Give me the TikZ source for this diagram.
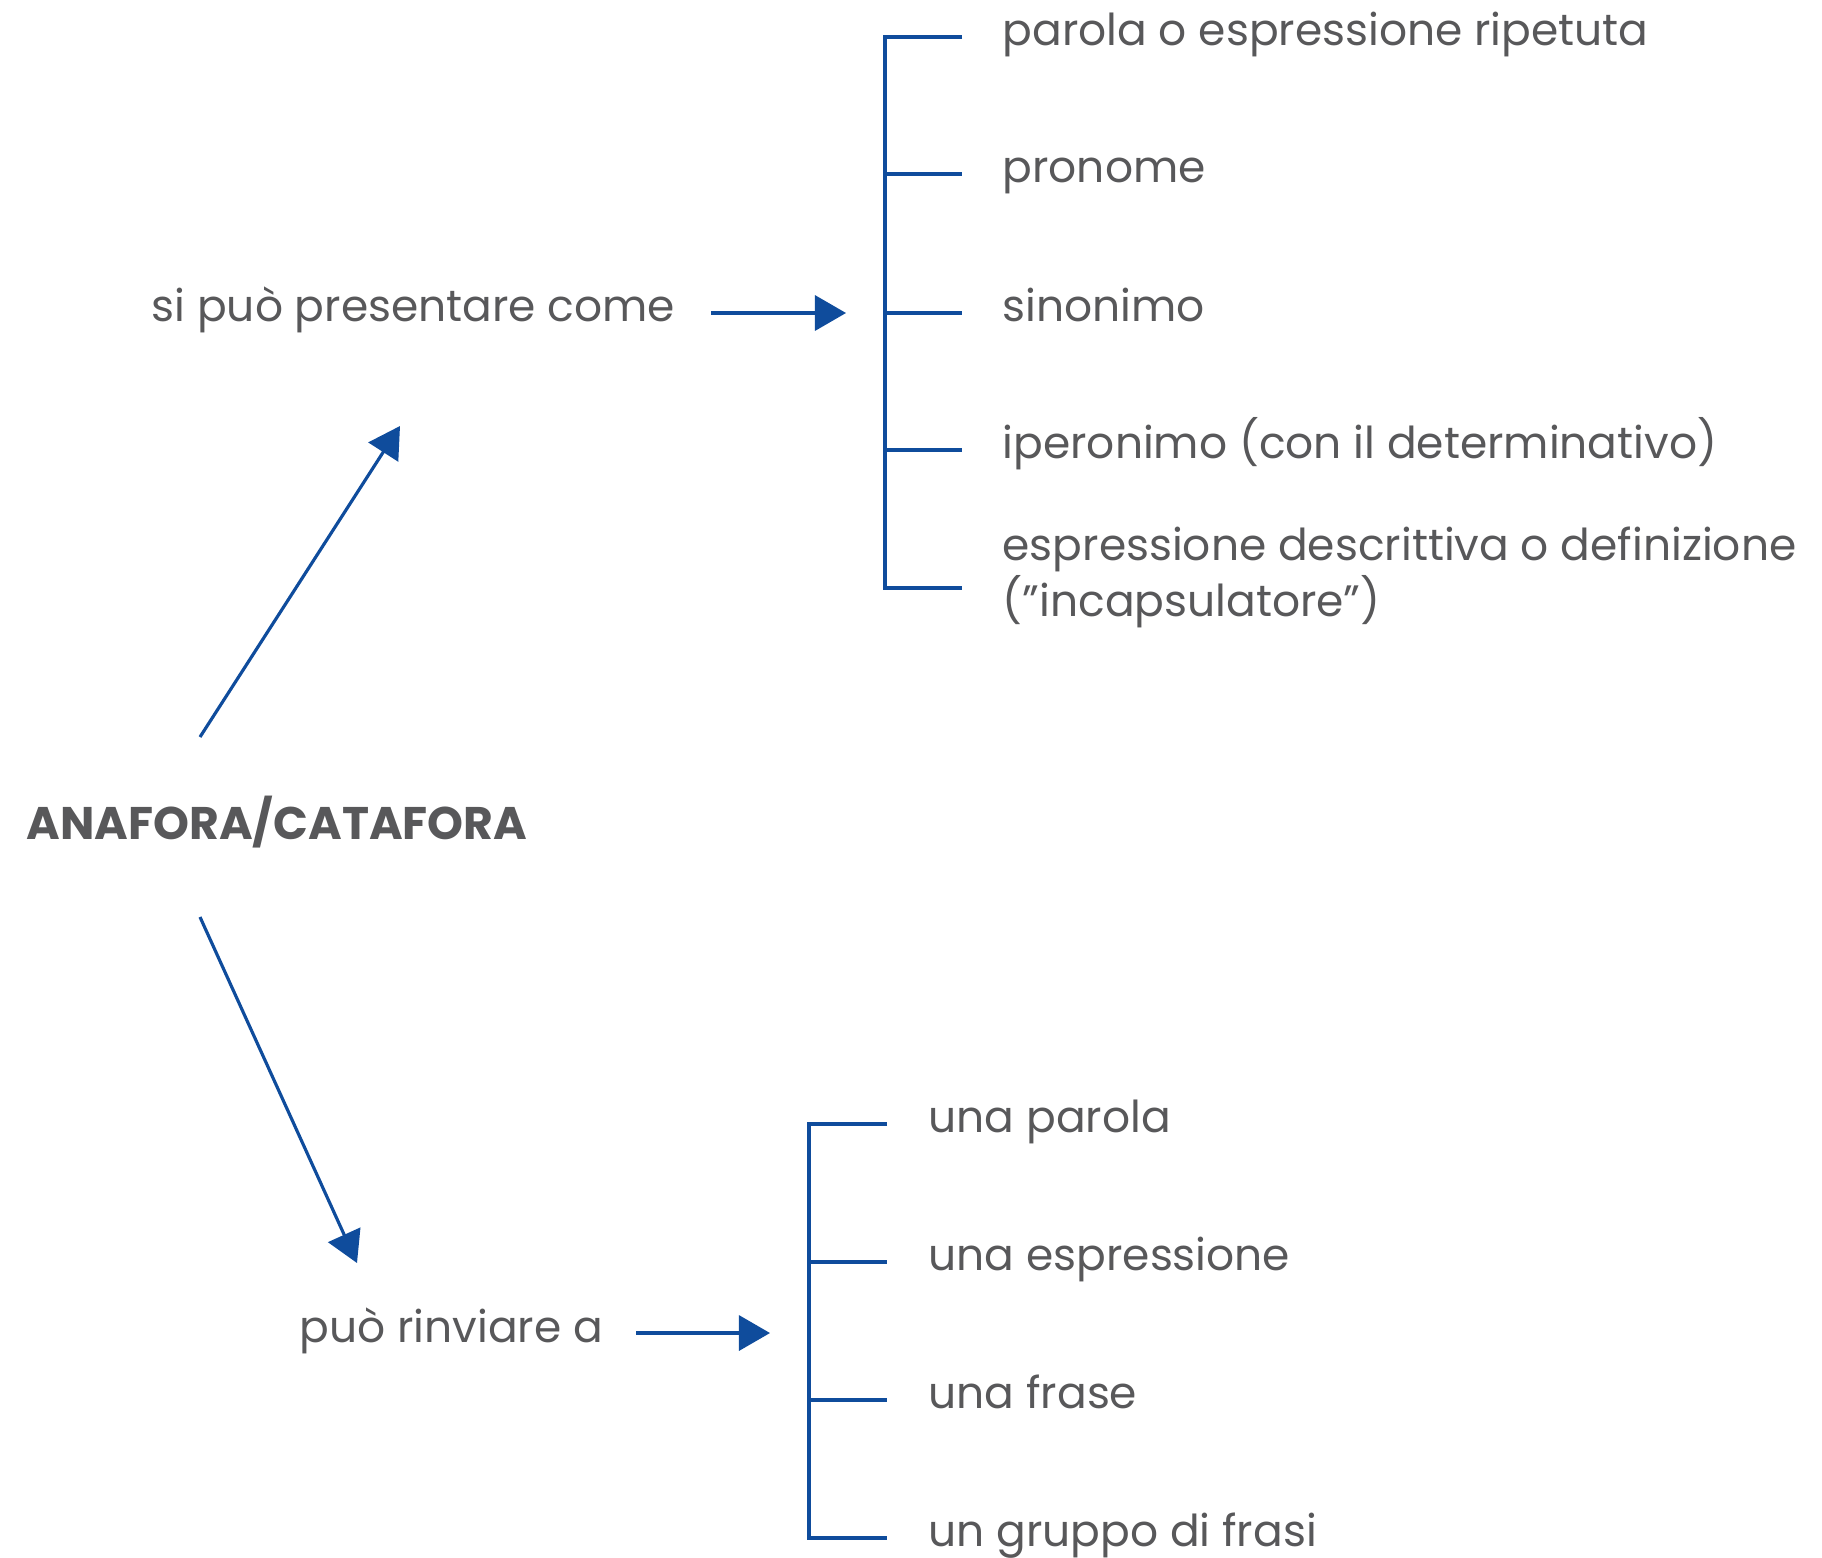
\documentclass[tikz,border=0pt]{standalone}
\usepackage{fontspec}
\setmainfont{Poppins}
\usetikzlibrary{arrows.meta,positioning}
\definecolor{MapBlue}{HTML}{0F4C9C}
\definecolor{MapInk}{HTML}{58585A}

\begin{document}
\begin{tikzpicture}[
    x=0.01cm, y=-0.01cm,
    item/.style={
      anchor=base west, inner sep=0pt, align=left,
      font=\fontsize{12.5}{13.8}\selectfont, text=MapInk
    },
    head/.style={
      anchor=base west, inner sep=0pt,
      font=\fontsize{13}{16}\selectfont\bfseries, text=MapInk
    },
    arr/.style={-{Triangle[length=3.1mm, width=3.5mm]}, line width=0.9pt, color=MapBlue},
    brk/.style={line width=0.95pt, color=MapBlue, line join=miter}
  ]
  \useasboundingbox (0,0) rectangle (1822,1557);

  % Main term
  \node[head] (anafora) at (26, 839) {ANAFORA/CATAFORA};

  % Upper branch
  \node[item] (presenta) at (151, 321) {si può presentare come};
  \node[item] (parola) at (1002, 45) {parola o espressione ripetuta};
  \node[item] (pronome) at (1002, 182) {pronome};
  \node[item] (sinonimo) at (1002, 321) {sinonimo};
  \node[item] (iperonimo) at (1002, 458) {iperonimo (con il determinativo)};
  \node[item] (descr) at (1002, 616) {espressione descrittiva o definizione\\(”incapsulatore”)};

  % Lower branch
  \node[item] (rinvia) at (299, 1342) {può rinviare a};
  \node[item] (unaparola) at (928, 1132) {una parola};
  \node[item] (unaespr) at (928, 1270) {una espressione};
  \node[item] (unafrase) at (928, 1408) {una frase};
  \node[item] (gruppo) at (928, 1546) {un gruppo di frasi};

  % Arrow ends
  \coordinate (upfrom) at (200, 737);
  \coordinate (upto) at (400, 426);
  \coordinate (downfrom) at (200, 917);
  \coordinate (downto) at (357, 1263);
  \coordinate (pfrom) at (711, 313);
  \coordinate (pto) at (846, 313);
  \coordinate (rfrom) at (636, 1333);
  \coordinate (rto) at (770, 1333);

  % Bracket ends
  \coordinate (ta1) at (885, 37);   \coordinate (te1) at (962, 37);
  \coordinate (ta2) at (885, 174);  \coordinate (te2) at (962, 174);
  \coordinate (ta3) at (885, 313);  \coordinate (te3) at (962, 313);
  \coordinate (ta4) at (885, 450);  \coordinate (te4) at (962, 450);
  \coordinate (ta5) at (885, 588);  \coordinate (te5) at (962, 588);
  \coordinate (ba1) at (809, 1124); \coordinate (be1) at (887, 1124);
  \coordinate (ba2) at (809, 1262); \coordinate (be2) at (887, 1262);
  \coordinate (ba3) at (809, 1400); \coordinate (be3) at (887, 1400);
  \coordinate (ba4) at (809, 1538); \coordinate (be4) at (887, 1538);

  % Arrows
  \draw[arr] (upfrom) -- (upto);
  \draw[arr] (downfrom) -- (downto);
  \draw[arr] (pfrom) -- (pto);
  \draw[arr] (rfrom) -- (rto);

  % Brackets
  \draw[brk] (te1) -- (ta1) -- (ta5) -- (te5);
  \draw[brk] (ta2) -- (te2);
  \draw[brk] (ta3) -- (te3);
  \draw[brk] (ta4) -- (te4);
  \draw[brk] (be1) -- (ba1) -- (ba4) -- (be4);
  \draw[brk] (ba2) -- (be2);
  \draw[brk] (ba3) -- (be3);

\end{tikzpicture}
\end{document}
